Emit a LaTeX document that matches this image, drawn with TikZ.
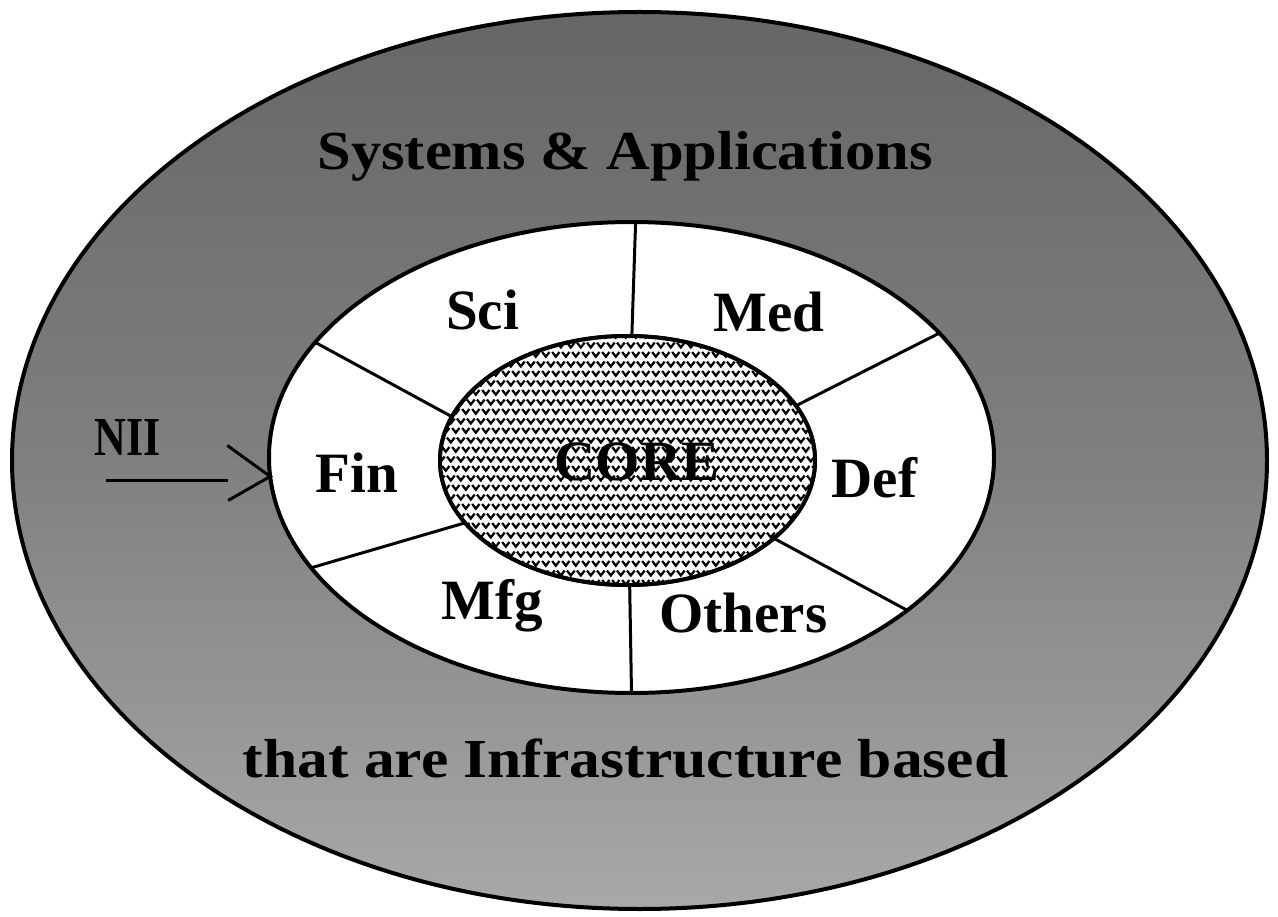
\documentclass[tikz,border=0pt]{standalone}
\usepackage{fontspec}
\setmainfont{Liberation Serif}
\usetikzlibrary{patterns,calc,shapes.geometric}
\pgfdeclarepatternformonly{chevs}{\pgfpointorigin}{\pgfqpoint{9.8pt}{19.4pt}}{\pgfqpoint{9.8pt}{19.4pt}}{%
  \pgfsetlinewidth{2.3pt}%
  \pgfpathmoveto{\pgfqpoint{1.2pt}{8.2pt}}\pgfpathlineto{\pgfqpoint{4.9pt}{3.4pt}}\pgfpathlineto{\pgfqpoint{8.6pt}{8.2pt}}%
  \pgfpathmoveto{\pgfqpoint{-3.7pt}{17.9pt}}\pgfpathlineto{\pgfqpoint{0pt}{13.1pt}}\pgfpathlineto{\pgfqpoint{3.7pt}{17.9pt}}%
  \pgfpathmoveto{\pgfqpoint{6.1pt}{17.9pt}}\pgfpathlineto{\pgfqpoint{9.8pt}{13.1pt}}\pgfpathlineto{\pgfqpoint{13.5pt}{17.9pt}}%
  \pgfusepath{stroke}}
\tikzset{
  ring/.style={ellipse, draw=black, line width=4pt, inner sep=0pt, outer sep=0pt},
  lbl/.style={font=\fontsize{57}{60}\selectfont\bfseries, inner sep=0pt, anchor=base},
  bigl/.style={font=\fontsize{55}{58}\selectfont\bfseries, inner sep=0pt, anchor=base},
  divider/.style={line width=3pt, black},
  pointer/.style={line width=3pt, black, line join=miter}
}
\begin{document}
\begin{tikzpicture}[x=1pt,y=-1pt]
\useasboundingbox (0,0) rectangle (1278,917);
\fill[white] (0,0) rectangle (1278,917);
% rings
\node[ring, minimum width=1255pt, minimum height=897pt,
      top color=black!60, bottom color=black!34, middle color=black!50] (outer) at (639.5,460.5) {};
\node[ring, minimum width=725pt, minimum height=471pt, fill=white] (mid) at (631.5,457.5) {};
% dividers
\node[ring, minimum width=375pt, minimum height=249pt] (corebox) at (627.5,460.5) {};
\draw[divider] (corebox.88) -- (mid.89);
\draw[divider] (corebox.166) -- (mid.160);
\draw[divider] (corebox.18) -- (mid.22);
\draw[divider] (corebox.201) -- (mid.199.5);
\draw[divider] (corebox.332) -- (mid.331);
\draw[divider] (corebox.271.6) -- (mid.270.4);
\node[ring, minimum width=375pt, minimum height=249pt, preaction={fill=white}, pattern=chevs] (core) at (627.5,460.5) {};
% labels
\node[bigl] (sys) at (625,170) {\scalebox{1.1}[1]{Systems \& Applications}};
\node[lbl] (sci) at (482.5,330) {Sci};
\node[lbl] (med) at (769,332) {Med};
\node[lbl] (fin) at (357,492) {Fin};
\node[lbl] (corelbl) at (637,480) {CORE};
\node[lbl] (def) at (874.5,497) {Def};
\node[lbl] (mfg) at (492,619) {Mfg};
\node[lbl] (oth) at (743.5,632) {Others};
\node[bigl] (infra) at (625.5,777) {\scalebox{1.12}[1]{that are Infrastructure based}};
\node[bigl] (nii) at (128,455) {\scalebox{0.8}[1]{NII}};
% NII pointer
\coordinate (tip) at (mid.183.2);
\coordinate (ulstart) at (106,480);
\coordinate (ulend) at (228,480);
\draw[pointer] (ulstart) -- (ulend);
\draw[pointer] ($(tip)+(-43,-31)$) -- (tip) -- ($(tip)+(-42,24)$);
\end{tikzpicture}
\end{document}
